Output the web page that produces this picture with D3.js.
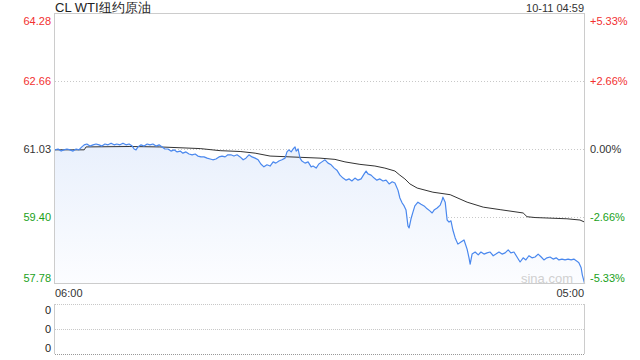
<!DOCTYPE html>
<html lang="zh">
<head>
<meta charset="UTF-8">
<title>CL WTI纽约原油</title>
<style>
  body { margin: 0; background: #fff; }
  svg text { font-family: Arial, "Liberation Sans", sans-serif; }
</style>
</head>
<body>
<script src="https://cdn.jsdelivr.net/npm/d3@7"></script>
<script>
// 分时数据：分钟偏移（从06:00起）与价格
const title = 'CL WTI纽约原油';
const stamp = '10-11 04:59';
const prevClose = 61.03;
const priceTicks = [64.28, 62.66, 61.03, 59.40, 57.78];
const pctTicks = ['+5.33%', '+2.66%', '0.00%', '-2.66%', '-5.33%'];
const timeLabels = ['06:00', '05:00'];
const volTicks = ['0', '0', '0'];

const times = [
  0, 8, 16, 23, 31, 39, 47, 55, 62, 70,
  76, 83, 91, 99, 107, 115, 122, 130, 138, 146,
  154, 161, 169, 177, 185, 193, 201, 206, 211, 216,
  224, 232, 240, 247, 255, 263, 271, 279, 286, 294,
  302, 310, 318, 326, 333, 341, 349, 357, 365, 372,
  380, 388, 396, 404, 411, 419, 427, 435, 443, 450,
  458, 466, 474, 482, 490, 497, 505, 513, 521, 529,
  536, 544, 552, 560, 568, 575, 583, 591, 599, 604,
  609, 615, 620, 625, 628, 633, 638, 643, 651, 659,
  667, 672, 680, 687, 695, 703, 711, 719, 727, 734,
  742, 750, 758, 766, 773, 781, 789, 797, 805, 810,
  815, 823, 831, 838, 846, 854, 862, 870, 878, 885,
  893, 898, 904, 909, 914, 919, 922, 927, 932, 937,
  945, 953, 961, 969, 976, 982, 987, 995, 1003, 1008,
  1010, 1016, 1021, 1026, 1031, 1036, 1042, 1049, 1057, 1065,
  1073, 1078, 1081, 1086, 1094, 1102, 1109, 1117, 1125, 1133,
  1141, 1148, 1156, 1164, 1172, 1180, 1187, 1195, 1203, 1211,
  1219, 1226, 1234, 1242, 1250, 1258, 1266, 1273, 1281, 1289,
  1297, 1305, 1312, 1320, 1328, 1336, 1344, 1351, 1359, 1364,
  1370, 1373, 1379
];
const prices = [
  61.01, 61.03, 60.98, 61.01, 61.03, 61.01, 60.98, 61.03, 61.01, 61.08,
  61.13, 61.15, 61.10, 61.13, 61.15, 61.13, 61.10, 61.15, 61.13, 61.17,
  61.13, 61.15, 61.13, 61.17, 61.13, 61.15, 61.10, 61.03, 61.01, 61.08,
  61.13, 61.10, 61.15, 61.13, 61.15, 61.10, 61.13, 61.08, 61.03, 61.03,
  60.98, 61.01, 60.96, 60.98, 60.93, 60.96, 60.91, 60.89, 60.91, 60.86,
  60.84, 60.84, 60.81, 60.79, 60.77, 60.79, 60.84, 60.86, 60.84, 60.89,
  60.89, 60.86, 60.89, 60.84, 60.77, 60.81, 60.89, 60.84, 60.81, 60.77,
  60.67, 60.60, 60.65, 60.62, 60.72, 60.69, 60.74, 60.77, 60.81, 60.96,
  61.01, 60.96, 61.03, 61.08, 60.98, 61.03, 60.81, 60.74, 60.69, 60.72,
  60.60, 60.62, 60.57, 60.67, 60.72, 60.77, 60.69, 60.65, 60.57, 60.52,
  60.40, 60.33, 60.28, 60.31, 60.26, 60.33, 60.28, 60.31, 60.43, 60.50,
  60.43, 60.40, 60.33, 60.28, 60.31, 60.26, 60.28, 60.19, 60.24, 60.21,
  60.04, 59.85, 59.73, 59.66, 59.56, 59.18, 59.13, 59.35, 59.51, 59.66,
  59.75, 59.70, 59.66, 59.59, 59.54, 59.49, 59.56, 59.61, 59.68, 59.80,
  59.87, 59.75, 59.32, 59.27, 59.30, 59.08, 58.89, 58.74, 58.79, 58.84,
  58.62, 58.41, 58.26, 58.50, 58.55, 58.48, 58.55, 58.50, 58.53, 58.55,
  58.46, 58.50, 58.55, 58.50, 58.53, 58.60, 58.53, 58.55, 58.43, 58.31,
  58.41, 58.36, 58.46, 58.41, 58.43, 58.50, 58.43, 58.36, 58.41, 58.43,
  58.38, 58.41, 58.36, 58.38, 58.36, 58.38, 58.36, 58.38, 58.33, 58.29,
  58.17, 58.00, 57.79
];

// 均价线
const avgTimes = [0, 76, 81, 195, 273, 378, 430, 482, 521, 560, 638, 690, 729, 755, 794, 833,
  859, 885, 898, 911, 924, 943, 984, 1029, 1073, 1115, 1159, 1219, 1229, 1250, 1333, 1367, 1379];
const avgPrices = [61.01, 61.01, 61.08, 61.09, 61.08, 61.04, 60.99, 60.97, 60.93, 60.86, 60.83,
  60.81, 60.78, 60.72, 60.66, 60.62, 60.57, 60.50, 60.40, 60.31, 60.19, 60.09, 59.99, 59.93,
  59.75, 59.63, 59.57, 59.49, 59.40, 59.38, 59.35, 59.32, 59.27];

const width = 640, height = 360;
const padL = 55, padR = 585, padT = 14, padB = 284;
const volTop = 304, volBottom = 354;

const svg = d3.select('body').append('svg')
  .attr('width', width)
  .attr('height', height);

const x = d3.scaleLinear().domain([0, 1380]).range([padL, padR]);
const y = d3.scaleLinear().domain([57.78, 64.28]).range([padB, padT]);

const pts = times.map((t, i) => ({ t: t, p: prices[i] }));
const avg = avgTimes.map((t, i) => ({ t: t, p: avgPrices[i] }));

const colorOf = v => v > prevClose ? '#f23030' : (v < prevClose ? '#1aa11a' : '#333');

// 渐变填充
const grad = svg.append('defs').append('linearGradient')
  .attr('id', 'fillGrad')
  .attr('gradientUnits', 'userSpaceOnUse')
  .attr('x1', 0).attr('y1', padT).attr('x2', 0).attr('y2', padB);
grad.append('stop').attr('offset', 0).attr('stop-color', '#d7e4fa');
grad.append('stop').attr('offset', 1).attr('stop-color', '#fcfdff');

// 网格线
svg.append('g').selectAll('line')
  .data(priceTicks.slice(1, 4))
  .enter().append('line')
  .attr('x1', padL).attr('x2', padR)
  .attr('y1', d => Math.round(y(d)) + 0.5)
  .attr('y2', d => Math.round(y(d)) + 0.5)
  .attr('stroke', '#c8c8c8')
  .attr('stroke-dasharray', '1,2');

svg.append('path')
  .datum(pts)
  .attr('fill', 'url(#fillGrad)')
  .attr('d', d3.area().x(d => x(d.t)).y0(padB).y1(d => y(d.p)));

svg.append('path')
  .datum(avg)
  .attr('fill', 'none')
  .attr('stroke', '#333')
  .attr('stroke-width', 1)
  .attr('d', d3.line().x(d => x(d.t)).y(d => y(d.p)));

svg.append('path')
  .datum(pts)
  .attr('fill', 'none')
  .attr('stroke', '#4a88ee')
  .attr('stroke-width', 1.2)
  .attr('stroke-linejoin', 'round')
  .attr('d', d3.line().x(d => x(d.t)).y(d => y(d.p)));

// 边框
svg.append('rect')
  .attr('x', padL - 0.5).attr('y', padT - 0.5)
  .attr('width', padR - padL).attr('height', padB - padT)
  .attr('fill', 'none')
  .attr('stroke', '#cccccc');

// 水印
svg.append('text')
  .attr('x', 573).attr('y', 283)
  .attr('text-anchor', 'end')
  .attr('font-size', 13)
  .attr('fill', '#d0d0d0')
  .text('sina.com');

// 左轴
const axisL = svg.append('g')
  .attr('transform', `translate(${padL - 4},0)`)
  .call(d3.axisLeft(y).tickValues(priceTicks).tickSize(0).tickFormat(d3.format('.2f')));
axisL.select('.domain').remove();
axisL.selectAll('text')
  .attr('x', 0)
  .attr('font-size', 11)
  .attr('font-family', 'Arial, "Liberation Sans", sans-serif')
  .attr('fill', d => colorOf(d))
  .attr('dy', (d, i) => i === 0 ? '0.95em' : (i === 4 ? '-0.2em' : '0.32em'));

// 右轴
const axisR = svg.append('g')
  .attr('transform', `translate(${padR + 5},0)`)
  .call(d3.axisRight(y).tickValues(priceTicks).tickSize(0).tickFormat((d, i) => pctTicks[i]));
axisR.select('.domain').remove();
axisR.selectAll('text')
  .attr('x', 0)
  .attr('font-size', 11)
  .attr('font-family', 'Arial, "Liberation Sans", sans-serif')
  .attr('fill', d => colorOf(d))
  .attr('dy', (d, i) => i === 0 ? '0.95em' : (i === 4 ? '-0.2em' : '0.32em'));

// 标题
svg.append('text')
  .attr('x', padL).attr('y', 12)
  .attr('font-size', 13)
  .attr('fill', '#222')
  .text(title);
svg.append('text')
  .attr('x', padR - 1).attr('y', 12)
  .attr('text-anchor', 'end')
  .attr('font-size', 11)
  .attr('fill', '#333')
  .text(stamp);

// 时间轴
svg.append('text')
  .attr('x', x(0)).attr('y', 297)
  .attr('font-size', 11).attr('fill', '#333')
  .text(timeLabels[0]);
svg.append('text')
  .attr('x', x(1380) - 1).attr('y', 297)
  .attr('text-anchor', 'end')
  .attr('font-size', 11).attr('fill', '#333')
  .text(timeLabels[1]);

// 成交量面板
const yv = d3.scalePoint().domain([0, 1, 2]).range([volTop, volBottom]);
svg.append('line')
  .attr('x1', padL - 0.5).attr('x2', padL - 0.5)
  .attr('y1', volTop).attr('y2', volBottom)
  .attr('stroke', '#cccccc');
svg.append('line')
  .attr('x1', padR - 0.5).attr('x2', padR - 0.5)
  .attr('y1', volTop).attr('y2', volBottom)
  .attr('stroke', '#cccccc');
svg.append('g').selectAll('line')
  .data([0, 1, 2])
  .enter().append('line')
  .attr('x1', padL).attr('x2', padR)
  .attr('y1', d => yv(d) + 0.5).attr('y2', d => yv(d) + 0.5)
  .attr('stroke', d => d === 2 ? '#999' : '#c8c8c8')
  .attr('stroke-dasharray', '1,1');
svg.append('g').selectAll('text')
  .data(volTicks)
  .enter().append('text')
  .attr('x', padL - 4)
  .attr('y', (d, i) => yv(i))
  .attr('dy', (d, i) => i === 0 ? '0.95em' : (i === 2 ? '-0.2em' : '0.32em'))
  .attr('text-anchor', 'end')
  .attr('font-size', 11)
  .attr('fill', '#222')
  .text(d => d);
</script>
</body>
</html>
